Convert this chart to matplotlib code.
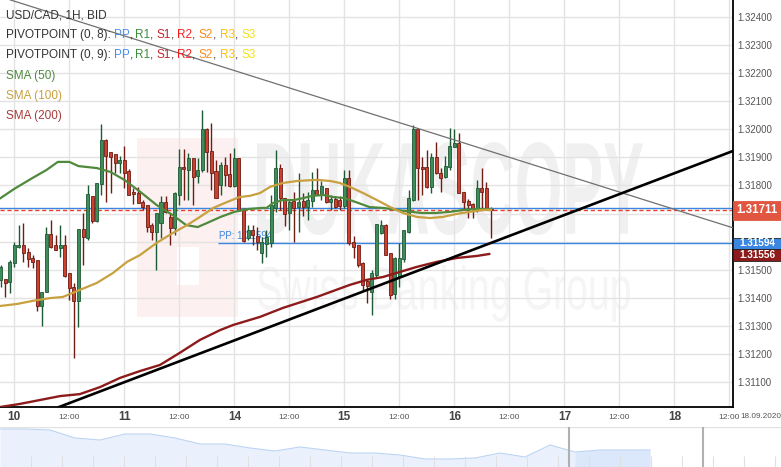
import numpy as np
import matplotlib
matplotlib.use("Agg")
import matplotlib.pyplot as plt
import matplotlib.transforms as mtransforms
from matplotlib.patches import Rectangle, PathPatch
from matplotlib.textpath import TextPath
from matplotlib.font_manager import FontProperties

plt.rcParams["font.family"] = ["Liberation Sans", "DejaVu Sans"]

# USD/CAD hourly candles, hour 0 = 10 Sep 00:00 (weekend hours removed)
first_hour = -3
opens = [1.31464, 1.31467, 1.31456, 1.31524, 1.31581, 1.31588, 1.31563, 1.31542, 1.31535, 1.31371,
         1.31421, 1.31627, 1.31588, 1.31577, 1.31588, 1.31488, 1.31439, 1.31389, 1.31645, 1.31613,
         1.31763, 1.31674, 1.31805, 1.31962, 1.31919, 1.31912, 1.31880, 1.31891, 1.31852, 1.31777,
         1.31773, 1.31741, 1.31731, 1.31659, 1.31634, 1.31666, 1.31741, 1.31688, 1.31649, 1.31766,
         1.31866, 1.31855, 1.31898, 1.31834, 1.31855, 1.32001, 1.31923, 1.31852, 1.31802, 1.31873,
         1.31841, 1.31798, 1.31898, 1.31716, 1.31613, 1.31642, 1.31620, 1.31560, 1.31592, 1.31595,
         1.31720, 1.31862, 1.31755, 1.31702, 1.31745, 1.31723, 1.31745, 1.31723, 1.31745, 1.31784,
         1.31766, 1.31791, 1.31741, 1.31752, 1.31748, 1.31727, 1.31827, 1.31599, 1.31588, 1.31524,
         1.31460, 1.31421, 1.31481, 1.31631, 1.31659, 1.31560, 1.31414, 1.31478, 1.31538, 1.31634,
         1.31748, 1.32001, 1.31866, 1.31866, 1.31795, 1.31902, 1.31845, 1.31830, 1.31866, 1.31937,
         1.31951, 1.31777, 1.31745, 1.31734, 1.31713, 1.31791, 1.31791, 1.31716]
highs = [1.31517, 1.31467, 1.31535, 1.31599, 1.31659, 1.31666, 1.31577, 1.31552, 1.31535, 1.31421,
         1.31652, 1.31677, 1.31624, 1.31659, 1.31624, 1.31488, 1.31453, 1.31645, 1.31702, 1.31802,
         1.31763, 1.31809, 1.32019, 1.31966, 1.31919, 1.31912, 1.31905, 1.31941, 1.31859, 1.31791,
         1.31795, 1.31748, 1.31731, 1.31666, 1.31702, 1.31763, 1.31763, 1.31702, 1.31777, 1.31930,
         1.31930, 1.31916, 1.31898, 1.31898, 1.32069, 1.32005, 1.32023, 1.31891, 1.31884, 1.31902,
         1.31916, 1.31934, 1.31898, 1.31720, 1.31659, 1.31659, 1.31652, 1.31617, 1.31642, 1.31766,
         1.31926, 1.31877, 1.31755, 1.31748, 1.31777, 1.31845, 1.31773, 1.31777, 1.31848, 1.31862,
         1.31816, 1.31791, 1.31766, 1.31763, 1.31763, 1.31855, 1.31855, 1.31620, 1.31588, 1.31528,
         1.31464, 1.31499, 1.31663, 1.31677, 1.31663, 1.31560, 1.31545, 1.31595, 1.31642, 1.31784,
         1.32015, 1.32001, 1.31902, 1.31926, 1.31916, 1.31955, 1.31862, 1.31905, 1.32005, 1.32001,
         1.31987, 1.31777, 1.31752, 1.31738, 1.31820, 1.31862, 1.31812, 1.31723]
lows = [1.31439, 1.31403, 1.31417, 1.31510, 1.31577, 1.31528, 1.31510, 1.31506, 1.31353, 1.31300,
        1.31421, 1.31577, 1.31570, 1.31545, 1.31474, 1.31392, 1.31186, 1.31296, 1.31517, 1.31606,
        1.31666, 1.31670, 1.31766, 1.31741, 1.31773, 1.31845, 1.31845, 1.31791, 1.31766, 1.31734,
        1.31738, 1.31713, 1.31634, 1.31606, 1.31499, 1.31613, 1.31702, 1.31588, 1.31624, 1.31731,
        1.31748, 1.31748, 1.31731, 1.31809, 1.31848, 1.31848, 1.31784, 1.31755, 1.31766, 1.31798,
        1.31795, 1.31795, 1.31709, 1.31599, 1.31606, 1.31588, 1.31570, 1.31524, 1.31545, 1.31581,
        1.31706, 1.31713, 1.31656, 1.31642, 1.31599, 1.31634, 1.31691, 1.31677, 1.31723, 1.31766,
        1.31748, 1.31738, 1.31713, 1.31720, 1.31713, 1.31720, 1.31588, 1.31542, 1.31510, 1.31428,
        1.31382, 1.31339, 1.31474, 1.31627, 1.31552, 1.31396, 1.31396, 1.31439, 1.31528, 1.31631,
        1.31745, 1.31748, 1.31766, 1.31791, 1.31773, 1.31841, 1.31777, 1.31827, 1.31855, 1.31937,
        1.31773, 1.31713, 1.31684, 1.31684, 1.31706, 1.31713, 1.31713, 1.31613]
closes = [1.31510, 1.31453, 1.31528, 1.31588, 1.31588, 1.31560, 1.31538, 1.31528, 1.31371, 1.31421,
          1.31627, 1.31581, 1.31570, 1.31588, 1.31478, 1.31435, 1.31389, 1.31645, 1.31617, 1.31770,
          1.31674, 1.31809, 1.31962, 1.31905, 1.31902, 1.31880, 1.31891, 1.31845, 1.31766, 1.31770,
          1.31738, 1.31723, 1.31652, 1.31634, 1.31702, 1.31741, 1.31706, 1.31649, 1.31773, 1.31866,
          1.31859, 1.31898, 1.31830, 1.31855, 1.32001, 1.31919, 1.31845, 1.31755, 1.31873, 1.31837,
          1.31798, 1.31898, 1.31713, 1.31602, 1.31642, 1.31624, 1.31599, 1.31599, 1.31617, 1.31731,
          1.31862, 1.31755, 1.31699, 1.31741, 1.31720, 1.31741, 1.31723, 1.31748, 1.31784, 1.31766,
          1.31798, 1.31741, 1.31752, 1.31723, 1.31727, 1.31827, 1.31595, 1.31581, 1.31517, 1.31446,
          1.31442, 1.31488, 1.31663, 1.31659, 1.31552, 1.31410, 1.31542, 1.31542, 1.31642, 1.31755,
          1.32001, 1.31862, 1.31859, 1.31795, 1.31902, 1.31845, 1.31827, 1.31869, 1.31941, 1.31951,
          1.31773, 1.31741, 1.31731, 1.31716, 1.31791, 1.31777, 1.31713, 1.31711]

# moving averages
sma50_hours = [-3, 0, 4, 7, 9.5, 12, 14, 18, 21, 24, 27.5, 31, 34.5, 37.5, 40, 42, 45, 48, 51, 54,
               55, 56.5, 58.5, 61, 63, 65, 67.5, 69.5, 72, 75, 77.5, 80.5, 83.5, 86.5, 89, 92, 95, 98, 101, 104]
sma50 = [1.31755, 1.31788, 1.31827, 1.31855, 1.31884, 1.31884, 1.31869, 1.31862, 1.31848, 1.31820,
         1.31777, 1.31731, 1.31695, 1.31659, 1.31652, 1.31666, 1.31688, 1.31706, 1.31716, 1.31720,
         1.31720, 1.31738, 1.31748, 1.31748, 1.31755, 1.31763, 1.31766, 1.31759, 1.31755, 1.31738,
         1.31723, 1.31720, 1.31713, 1.31706, 1.31702, 1.31702, 1.31706, 1.31713, 1.31716, 1.31716]
sma100_hours = [-3, 0.6, 4, 7.8, 10.6, 13.7, 18, 21.5, 24.6, 27.4, 31, 34.6, 37.7, 40.5, 43.4, 46.4,
                49.2, 51.4, 53.6, 55.8, 58.6, 61.7, 66, 68.9, 71, 73.2, 76.1, 79.1, 82, 84.8, 87.8,
                90.7, 93.5, 96.6, 99.4, 102.2, 104]
sma100 = [1.31371, 1.31378, 1.31389, 1.31399, 1.31403, 1.31424, 1.31453, 1.31488, 1.31528, 1.31552,
          1.31595, 1.31631, 1.31659, 1.31688, 1.31720, 1.31741, 1.31759, 1.31763, 1.31773, 1.31795,
          1.31809, 1.31816, 1.31820, 1.31816, 1.31809, 1.31795, 1.31773, 1.31748, 1.31723, 1.31702,
          1.31688, 1.31684, 1.31688, 1.31699, 1.31706, 1.31713, 1.31713]
sma200_hours = [-3.1, 1.2, 5.6, 10, 14.3, 18.7, 23.1, 27.4, 31.8, 36.1, 40.5, 44.9, 47.7, 53.6, 58.6,
                66, 73.2, 76.9, 80.4, 84.1, 87.8, 92.2, 96.6, 100.9, 103.6]
sma200 = [1.31011, 1.31022, 1.31036, 1.31050, 1.31057, 1.31082, 1.31115, 1.31139, 1.31161, 1.31204,
          1.31250, 1.31285, 1.31303, 1.31332, 1.31364, 1.31403, 1.31446, 1.31464, 1.31474, 1.31492,
          1.31510, 1.31528, 1.31542, 1.31549, 1.31556]

# drawn trend lines (two anchor points each)
support_hours = [9.75, 156.8]
support_prices = [1.31011, 1.31923]
resist_hours = [-0.9, 156.8]
resist_prices = [1.32461, 1.31649]

pp_old = 1.31720
pp_new = 1.31594
pp_new_start = 44.4
last_price = 1.31711

tick_hours = [0, 12, 24, 36, 48, 60, 72, 84, 96, 108, 120, 132, 144, 156]
tick_labels = ["10", "12:00", "11", "12:00", "14", "12:00", "15", "12:00", "16", "12:00",
               "17", "12:00", "18", "12:00"]
price_ticks = [1.311, 1.312, 1.313, 1.314, 1.315, 1.316, 1.317, 1.318, 1.319, 1.320,
               1.321, 1.322, 1.323, 1.324]
hidden_ticks = [1.316, 1.317]  # covered by the price boxes

# navigator strip (relative level of the longer history)
nav_level = [38, 38, 37, 29, 27, 33, 33, 29, 23, 23, 19, 16, 20, 17, 14, 14, 12, 8, 8, 9,
             14, 10, 22, 15, 17, 17, 17]

W, H = 781, 467
fig = plt.figure(figsize=(W / 100, H / 100), dpi=100)
ax = fig.add_axes([0, (H - 407) / H, 733 / W, 407 / H])
ax.set_xlim(-3.12, 156.78)
ax.set_ylim(1.310111, 1.324605)
ax.set_axisbelow(True)


def px_box(x0, y0, x1, y1):
    # pixel box (top-left origin) -> axes fraction
    return x0 / 733, 1 - y1 / 407, (x1 - x0) / 733, (y1 - y0) / 407


# watermark: pink logo + stretched text
lx, ly, lw_, lh = px_box(137, 138, 238, 317)
ax.add_patch(Rectangle((lx, ly), lw_, lh, transform=ax.transAxes, fc="#fcf0f0", ec="none", zorder=0.2))
lx, ly, lw_, lh = px_box(177, 247, 199, 285)
ax.add_patch(Rectangle((lx, ly), lw_, lh, transform=ax.transAxes, fc="white", ec="none", zorder=0.25))


def stretched(s, box, color, weight):
    tp = TextPath((0, 0), s, size=100, prop=FontProperties(family="Liberation Sans", weight=weight))
    bb = tp.get_extents()
    fx, fy, fw, fh = px_box(*box)
    tr = mtransforms.Affine2D().translate(-bb.x0, -bb.y0).scale(fw / bb.width, fh / bb.height) \
        .translate(fx, fy) + ax.transAxes
    ax.add_patch(PathPatch(tp, transform=tr, fc=color, ec="none", zorder=0.3))


stretched("DUKASCOPY", (257, 142, 643, 235), "#f0f0f0", "bold")
stretched("Swiss Banking Group", (258, 265, 630, 322), "#f5f5f5", "normal")

# grid and axes
ax.set_xticks(tick_hours)
ax.set_xticklabels(tick_labels)
ax.set_yticks(price_ticks)
ax.set_yticklabels(["" if p in hidden_ticks else "%.5f" % p for p in price_ticks])
ax.grid(True, color="#e3e3e3", lw=1)
ax.yaxis.tick_right()
ax.tick_params(axis="y", length=0, pad=3, labelsize=7, labelcolor="#555555")
ax.tick_params(axis="x", length=0, pad=7.5)
for lab, txt in zip(ax.get_xticklabels(), tick_labels):
    lab.set_va("center")
    if txt == "12:00":
        lab.set_fontsize(6.1)
        lab.set_color("#555555")
    else:
        lab.set_fontsize(8.5)
        lab.set_fontweight("bold")
        lab.set_color("#444444")
for side in ["top", "left"]:
    ax.spines[side].set_visible(False)
for side in ["right", "bottom"]:
    ax.spines[side].set_color("black")
    ax.spines[side].set_linewidth(1.3)

# horizontal pivot / price lines
ax.axhline(pp_old, color="#3a86e0", lw=1, zorder=1.5)
ax.hlines(pp_new, pp_new_start, 156.8, color="#3a86e0", lw=1, zorder=1.5)
ax.axhline(last_price, color="#e8402c", lw=1, ls=(0, (3, 2)), zorder=1.6)
ax.annotate("PP: %.5f" % pp_new, (pp_new_start + 0.2, pp_new), xytext=(0, 1.5),
            textcoords="offset points", fontsize=7, color="#3a86e0", va="bottom", zorder=1.7)

# candles
hours = np.arange(len(opens)) + first_hour
o = np.array(opens)
c = np.array(closes)
hi = np.array(highs)
lo = np.array(lows)
up = c >= o
body_h = np.maximum(np.abs(c - o), 0.00004)
body_b = np.minimum(o, c)
for mask, fill, edge in [(up, "#3e8c5b", "#1d5a33"), (~up, "#c9412f", "#6e1c14")]:
    ax.vlines(hours[mask], lo[mask], hi[mask], color=edge, lw=1, zorder=3)
    ax.bar(hours[mask], body_h[mask], bottom=body_b[mask], width=0.66, color=fill,
           edgecolor=edge, linewidth=0.6, zorder=3.1)

# moving averages and trend lines
ax.plot(sma50_hours, sma50, color="#4f8a3c", lw=1.6, zorder=4)
ax.plot(sma100_hours, sma100, color="#c9a03f", lw=1.6, zorder=4)
ax.plot(sma200_hours, sma200, color="#8e1b1b", lw=1.7, zorder=4)
ax.plot(resist_hours, resist_prices, color="#707070", lw=0.9, zorder=4.1)
ax.plot(support_hours, support_prices, color="black", lw=1.9, zorder=4.2)

# price boxes on the right axis
trans = mtransforms.blended_transform_factory(ax.transAxes, ax.transData)
bw = 48 / 733
px_price = 1 / 28080
boxes = [(last_price, 19, "#e05640", 8.3), (pp_new, 11.5, "#3a86e0", 7.2),
         (sma200[-1], 11.5, "#8e1b1b", 7.2)]
centers = [last_price, pp_new, pp_new - 11.5 * px_price]
for (val, hpx, col, fs), yc in zip(boxes, centers):
    hh = hpx * px_price
    ax.add_patch(Rectangle((1.0, yc - hh / 2), bw, hh, transform=trans, clip_on=False,
                           fc=col, ec="#222222" if hpx < 15 else col, lw=0.6, zorder=6))
    ax.text(1.0 + bw / 2, yc, "%.5f" % val, transform=trans, ha="center", va="center",
            color="white", fontsize=fs, fontweight="bold", zorder=7, clip_on=False)

fig.text(781 / W, 1 - 417 / H, "18.09.2020", ha="right", va="center", fontsize=5.9, color="#555555")

# legend lines at top-left
renderer = fig.canvas.get_renderer()
fp = FontProperties(family="Liberation Sans", size=8.5)


def text_w(s):
    return renderer.get_text_width_height_descent(s, fp, ismath=False)[0]


dark = "#333333"
pivots = [("PP", "#4a8ef0"), ("R1", "#3d8b3d"), ("S1", "#c1272d"), ("R2", "#f02020"),
          ("S2", "#ff8a1e"), ("R3", "#ffc000"), ("S3", "#f2e21a")]


def pivot_parts(label):
    parts = [(label, dark)]
    for k, (name, col) in enumerate(pivots):
        parts.append((name, col))
        if k < len(pivots) - 1:
            parts.append((", ", dark))
    return parts


legend_rows = [
    (15, [("USD/CAD, 1H, BID", dark)]),
    (35, pivot_parts("PIVOTPOINT (0, 8): ")),
    (55, pivot_parts("PIVOTPOINT (0, 9): ")),
    (76, [("SMA (50)", "#4f8a3c")]),
    (96, [("SMA (100)", "#c9a03f")]),
    (116, [("SMA (200)", "#a83a3a")]),
]
for ypx, parts in legend_rows:
    prefix = ""
    for s, col in parts:
        off = text_w("|" + prefix + "|") - text_w("||")
        fig.text((6 + off) / W, 1 - ypx / H, s, fontproperties=fp, color=col, va="center", zorder=8)
        prefix += s

# navigator strip
nav = fig.add_axes([0, 0, 1, 40.5 / H])
nav.set_xlim(0, W / 25)
nav.set_ylim(0, 40.5)
nav.axis("off")
nav_x = np.arange(len(nav_level))
nav.fill_between(nav_x, nav_level, 0, color="#eaf1fc", lw=0)
nav.fill_between(nav_x, nav_level, 0, where=nav_x >= 22.76, color="#dbe7fb", lw=0)
nav.plot(nav_x, nav_level, color="#bcd3f3", lw=0.8)
nav.axhline(40, color="#e2e2e2", lw=1)
nav.vlines(np.arange(31, 781, 31) / 25, 0, 11, color="#e0e0e0", lw=0.8)
nav.axvline(569 / 25, color="#b0b0b0", lw=1.5)
nav.axvline(703 / 25, color="#b0b0b0", lw=1.5)

fig.savefig("out.png", dpi=100)
